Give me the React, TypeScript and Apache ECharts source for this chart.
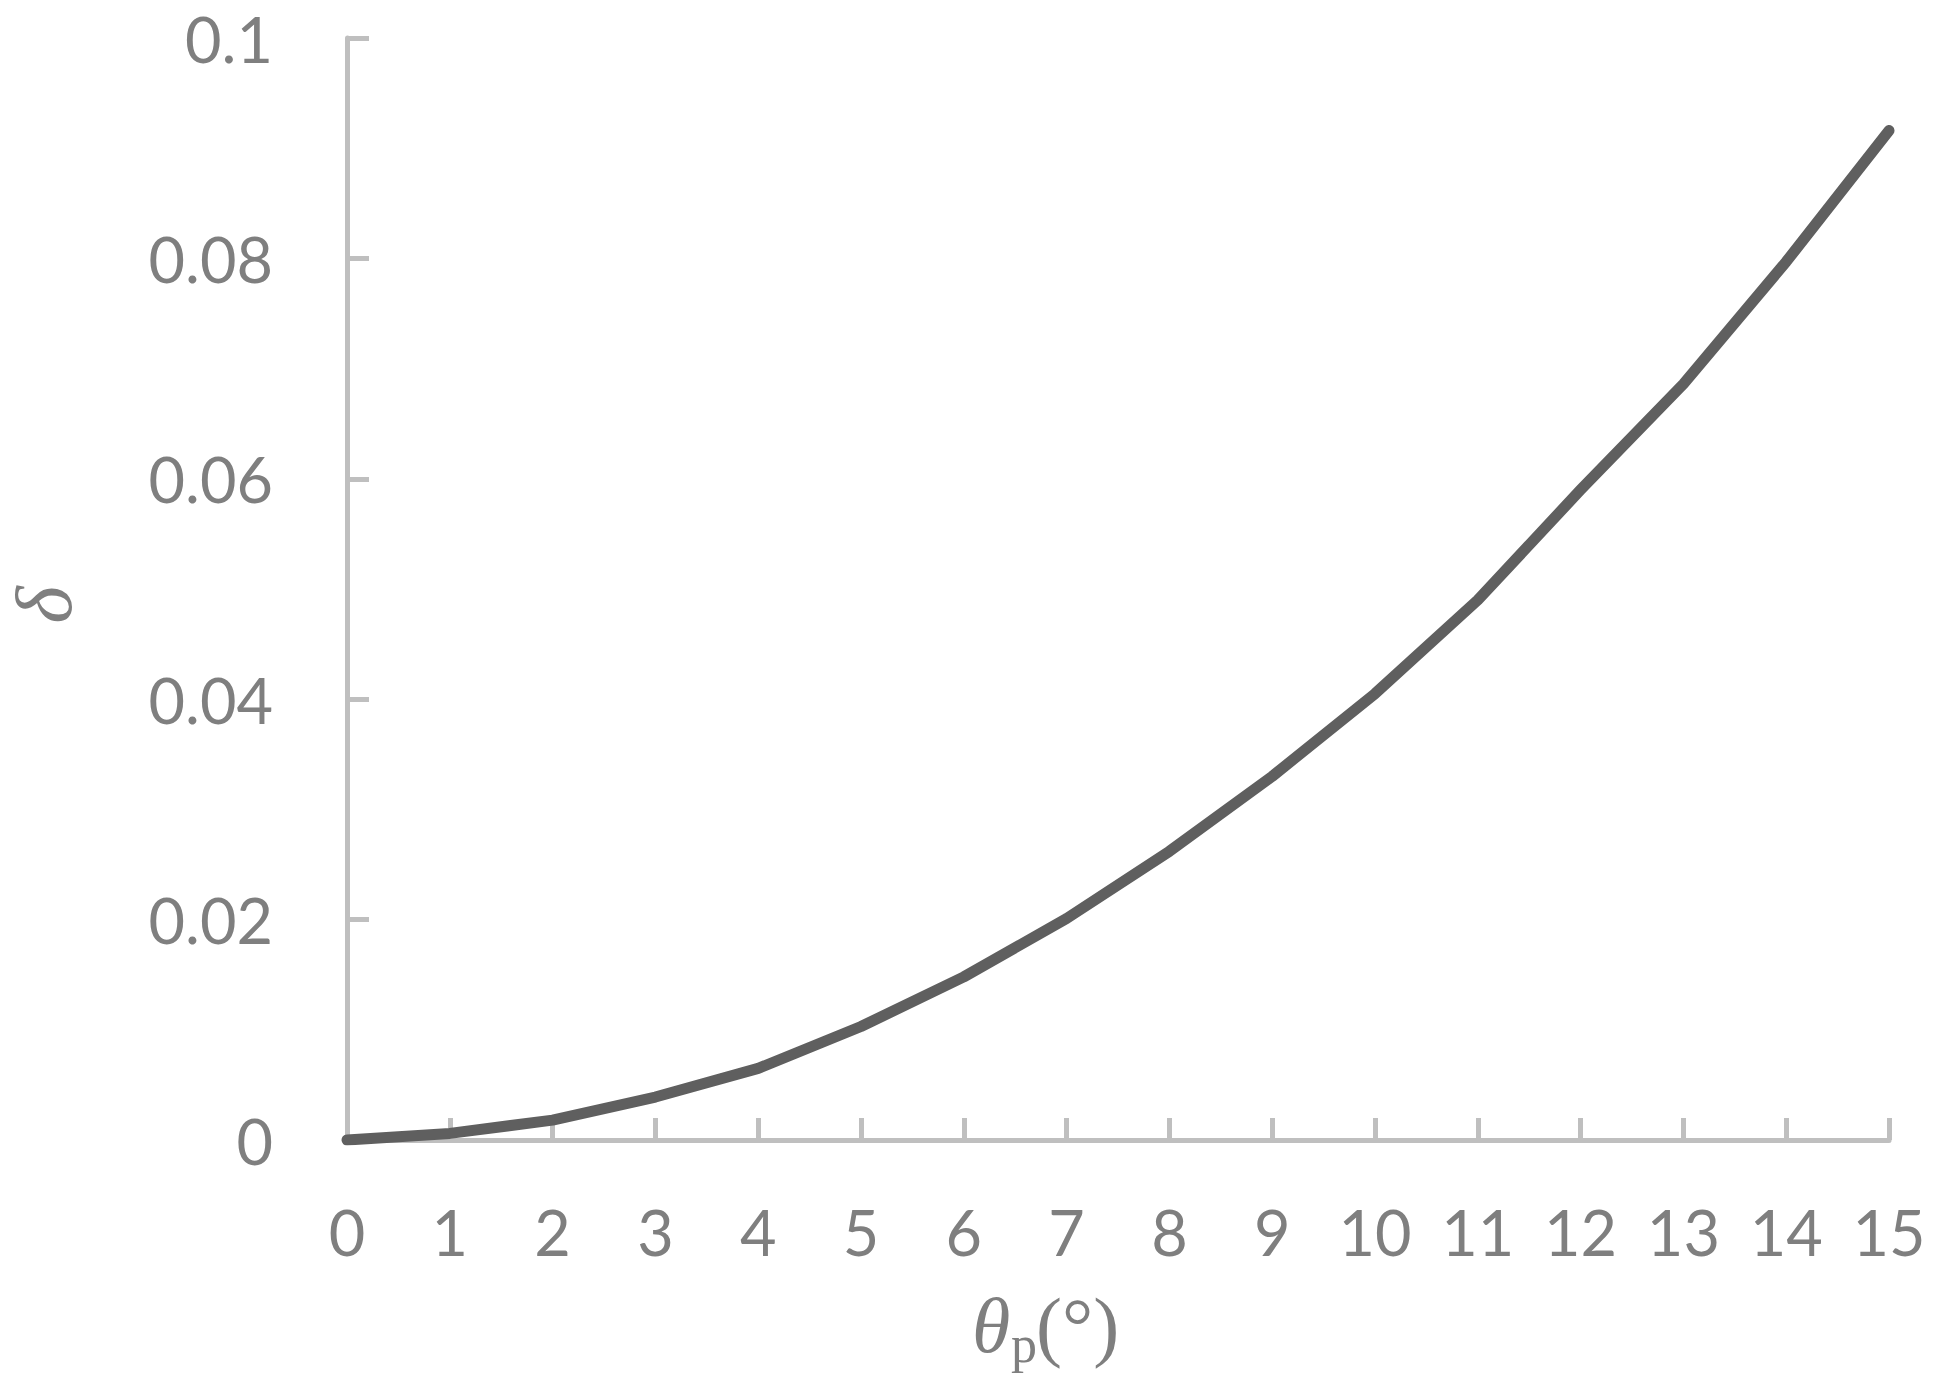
import React, { useEffect, useRef } from "react";
import * as echarts from "echarts";

const thetaValues = [0, 1, 2, 3, 4, 5, 6, 7, 8, 9, 10, 11, 12, 13, 14, 15];
const deltaValues = [0, 0.0006, 0.0018, 0.0039, 0.0065, 0.0103, 0.0148, 0.0201, 0.0262, 0.033, 0.0405, 0.049, 0.059, 0.0686, 0.0797, 0.0916];
const yTickValues = [0, 0.02, 0.04, 0.06, 0.08, 0.1];

const labelColor = "#7f7f7f";
const axisColor = "#bfbfbf";
const labelFont = "Lato";
const serif = "'Liberation Serif', 'DejaVu Serif', serif";

export default function App() {
  const ref = useRef<HTMLDivElement>(null);
  useEffect(() => {
    if (!ref.current) return;
    const chart = echarts.init(ref.current, undefined, { renderer: "svg" });
    chart.setOption({
      animation: false,
      backgroundColor: "#ffffff",
      grid: { left: 347, top: 38, width: 1542, height: 1102 },
      xAxis: {
        type: "value",
        min: 0,
        max: 15,
        interval: 1,
        axisLine: { show: true, lineStyle: { color: axisColor, width: 5 } },
        axisTick: { show: true, inside: true, length: 22, lineStyle: { color: axisColor, width: 5 } },
        splitLine: { show: false },
        axisLabel: { color: labelColor, fontFamily: labelFont, fontSize: 63, margin: 60 },
      },
      yAxis: {
        type: "value",
        min: 0,
        max: 0.1,
        interval: 0.02,
        axisLine: { show: true, lineStyle: { color: axisColor, width: 5 } },
        axisTick: { show: true, inside: true, length: 22, lineStyle: { color: axisColor, width: 5 } },
        splitLine: { show: false },
        axisLabel: {
          color: labelColor,
          fontFamily: labelFont,
          fontSize: 63,
          margin: 74,
          formatter: (v: number) => {
            const found = yTickValues.find((t) => Math.abs(t - v) < 1e-9);
            return String(found !== undefined ? +found.toFixed(2) : v);
          },
        },
      },
      graphic: [
        {
          type: "text",
          x: 44,
          y: 605,
          rotation: Math.PI / 2,
          style: { text: "δ", fill: labelColor, font: `italic 80px ${serif}`, align: "center", verticalAlign: "middle" },
        },
        {
          type: "text",
          x: 972,
          y: 1325,
          style: { text: "θ", fill: labelColor, font: `italic 78px ${serif}`, align: "left", verticalAlign: "middle" },
        },
        {
          type: "text",
          x: 1011,
          y: 1344,
          style: { text: "p", fill: labelColor, font: `52px ${serif}`, align: "left", verticalAlign: "middle" },
        },
        {
          type: "text",
          x: 1036,
          y: 1325,
          style: { text: "(°)", fill: labelColor, font: `78px ${serif}`, align: "left", verticalAlign: "middle" },
        },
      ],
      series: [
        {
          type: "line",
          data: thetaValues.map((t, i) => [t, deltaValues[i]]),
          showSymbol: false,
          symbol: "none",
          lineStyle: { color: "#5f5f5f", width: 11, cap: "round", join: "round" },
        },
      ],
    });
    return () => chart.dispose();
  }, []);
  return <div ref={ref} style={{ position: "fixed", left: 0, top: 0, width: 1935, height: 1386 }} />;
}
